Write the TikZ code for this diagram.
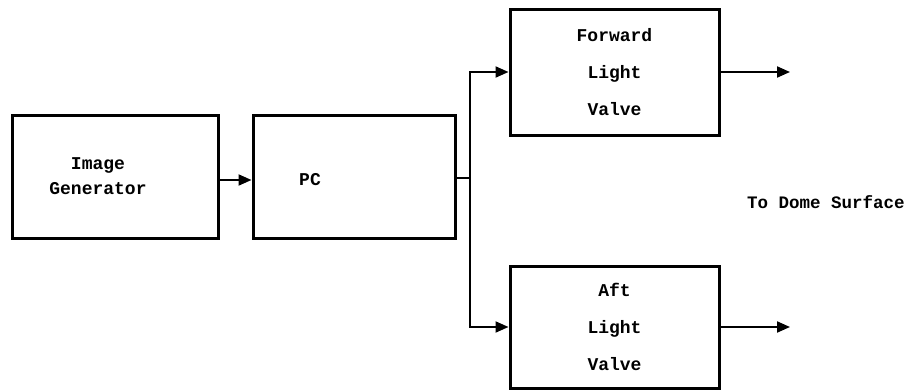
\documentclass[tikz,border=0pt]{standalone}
\usepackage{fontspec}
\setmonofont{Liberation Mono}
\usepackage{tikz}
\usetikzlibrary{positioning, arrows.meta, calc}

\begin{document}
\begin{tikzpicture}[
			x=1pt, y=-1pt,
			blk/.style={rectangle, draw, line width=3pt, inner sep=0pt},
			txt/.style={font=\ttfamily\bfseries\fontsize{18}{37}\selectfont, align=center},
			line width=2pt,
			>={Triangle[length=13pt, width=11pt]}
			]
			\useasboundingbox (0,0) rectangle (911,391);
			
			% Blocchi a sinistra
			\node[blk, minimum width=206pt, minimum height=123pt] (ig) at (115,176.5) {};
			\node[txt, font=\ttfamily\bfseries\fontsize{18}{25}\selectfont] (igt) at (98,176) {Image\\Generator};
			\node[blk, minimum width=202pt, minimum height=123pt] (pc) at (354,176.5) {};
			\node[txt] (pct) at (310,180) {PC};
			\draw[->] (ig.east |- 0,180) -- (pc.west |- 0,180);
			
			% Valvole di luce
			\node[blk, minimum width=209pt, minimum height=126pt, txt] (fwd) at (614.5,72) {Forward\\Light\\Valve};
			\node[blk, minimum width=209pt, minimum height=122pt, txt] (aft) at (614.5,327) {Aft\\Light\\Valve};
			
			% Diramazione
			\coordinate (br) at (470,178);
			\draw (pc.east |- br) -- (br);
			\draw[->] (br) |- (fwd.west);
			\draw[->] (br) |- (aft.west);
			
			% Uscite
			\coordinate (o1) at (790,72);
			\coordinate (o2) at (790,327);
			\draw[->] (fwd.east) -- (o1);
			\draw[->] (aft.east) -- (o2);
			\node[txt, font=\ttfamily\bfseries\fontsize{17.5}{20}\selectfont] (dome) at (826,202) {To Dome Surface};
			
		\end{tikzpicture}
\end{document}
